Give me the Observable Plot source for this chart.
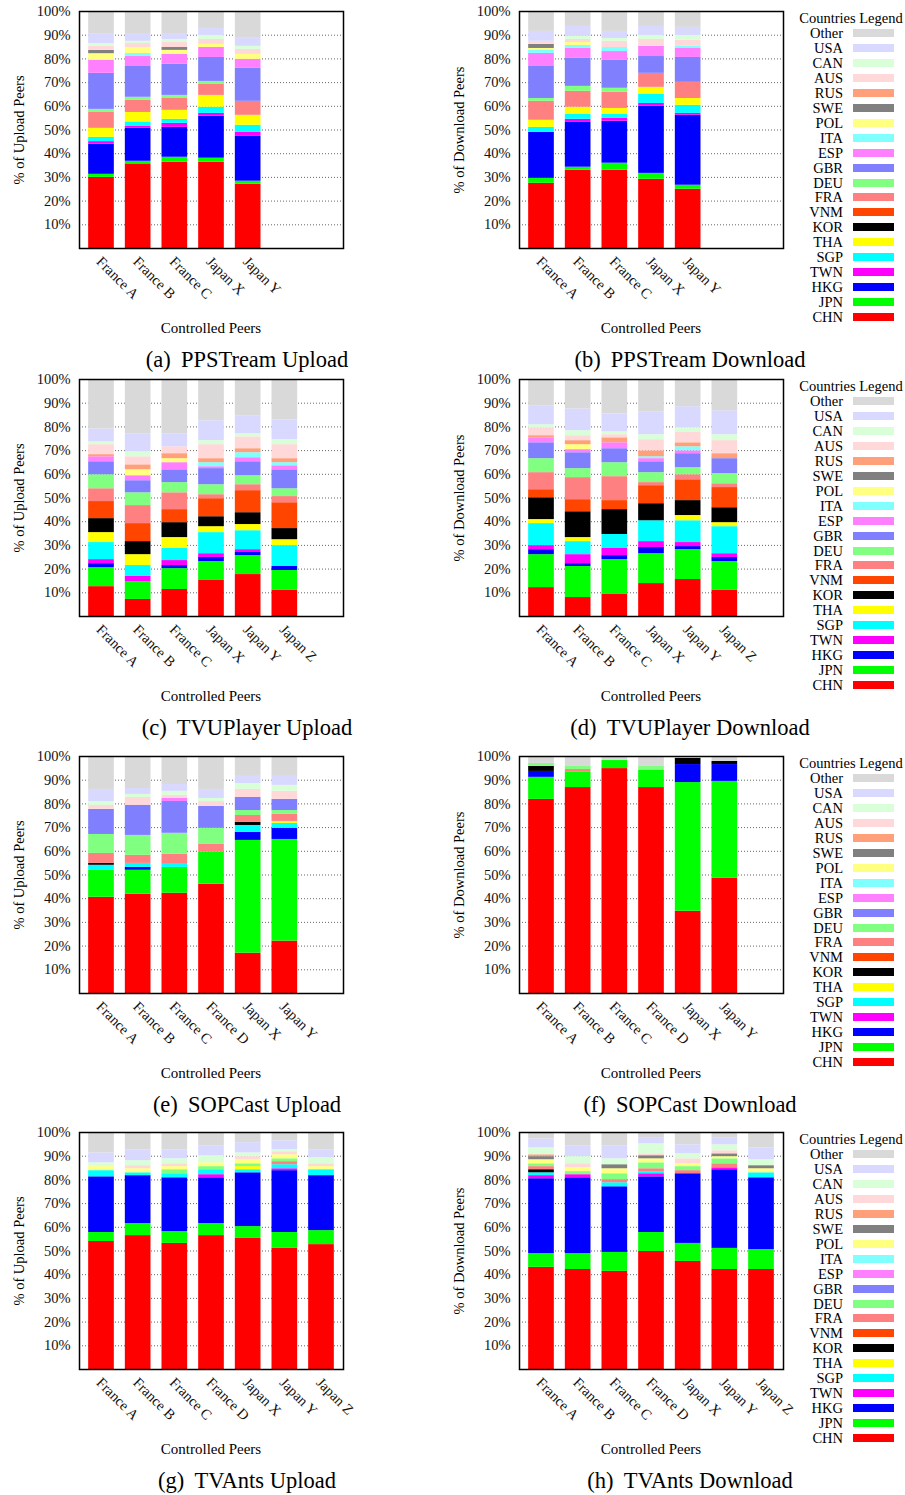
<!DOCTYPE html>
<html><head><meta charset="utf-8">
<script src="https://cdn.jsdelivr.net/npm/d3@7"></script>
<script src="https://cdn.jsdelivr.net/npm/@observablehq/plot@0.6"></script>
<style>
body{margin:0;background:#fff;}
#root{position:relative;width:905px;height:1495px;font-family:"Liberation Serif","Times New Roman",serif;color:#000;overflow:hidden;background:#fff}
.abs{position:absolute;white-space:nowrap;line-height:1}
.plot{position:absolute}
</style></head><body><div id="root"></div>
<script>
// stacking order, bottom to top
const countries = ["CHN","JPN","HKG","TWN","SGP","THA","KOR","VNM","FRA","DEU","GBR","ESP","ITA","POL","SWE","RUS","AUS","CAN","USA","Other"];
const colors = ["#ff0000","#00ff00","#0000ff","#ff00ff","#00ffff","#ffff00","#000000","#ff4500","#ff8080","#80ff80","#8080ff","#ff80ff","#80ffff","#ffff80","#808080","#ffa07a","#ffd9d9","#d9ffd9","#d9d9ff","#d9d9d9"];
const yTicks = [10,20,30,40,50,60,70,80,90,100];

const peersPPS = ["France A","France B","France C","Japan X","Japan Y"];
const peersTVU = ["France A","France B","France C","Japan X","Japan Y","Japan Z"];
const peersSOP = ["France A","France B","France C","France D","Japan X","Japan Y"];
const peersTVA = ["France A","France B","France C","France D","Japan X","Japan Y","Japan Z"];

const ppsUpload = [
  {CHN:30.0,JPN:1.3,HKG:12.7,TWN:1.1,SGP:1.8,THA:3.8,FRA:6.7,DEU:1.3,GBR:15.2,ESP:5.5,POL:2.8,SWE:1.4,AUS:1.7,CAN:1.2,USA:3.9,Other:9.6},
  {CHN:35.7,JPN:1.1,HKG:13.9,TWN:0.8,SGP:1.9,THA:4.0,FRA:5.1,DEU:1.3,GBR:13.0,ESP:4.2,ITA:1.3,POL:2.5,AUS:1.7,CAN:0.9,USA:3.3,Other:9.3},
  {CHN:36.4,JPN:2.1,HKG:12.6,TWN:1.7,SGP:1.7,THA:3.8,FRA:5.0,DEU:1.3,GBR:13.1,ESP:4.2,POL:1.7,SWE:1.2,AUS:2.1,CAN:1.3,USA:2.5,Other:9.3},
  {CHN:36.4,JPN:1.7,HKG:17.7,TWN:1.2,SGP:2.6,THA:5.0,FRA:4.6,DEU:1.3,GBR:10.1,ESP:4.2,POL:1.3,AUS:2.1,CAN:1.7,USA:2.9,Other:7.2},
  {CHN:27.1,JPN:1.3,HKG:18.9,TWN:1.7,SGP:3.0,THA:4.2,FRA:5.9,GBR:13.9,ESP:3.8,POL:2.1,AUS:2.1,CAN:1.3,USA:3.7,Other:11.0}
];
const ppsDownload = [
  {CHN:27.5,JPN:2.1,HKG:19.4,SGP:2.1,THA:3.0,FRA:8.0,DEU:1.2,GBR:13.5,ESP:5.5,ITA:1.3,POL:0.8,SWE:1.7,AUS:1.3,USA:4.2,Other:8.4},
  {CHN:33.0,JPN:1.3,HKG:18.9,TWN:1.3,SGP:2.1,THA:3.0,FRA:6.7,DEU:2.1,GBR:11.8,ESP:4.2,ITA:1.3,POL:1.2,AUS:1.3,CAN:1.3,USA:4.2,Other:6.3},
  {CHN:33.0,JPN:3.0,HKG:17.7,TWN:1.2,SGP:1.7,THA:2.5,FRA:6.8,DEU:1.7,GBR:11.8,ESP:3.7,ITA:1.7,AUS:2.6,CAN:1.2,USA:3.0,Other:8.4},
  {CHN:29.2,JPN:2.5,HKG:28.3,TWN:1.2,SGP:3.8,THA:3.0,FRA:5.9,GBR:7.1,ESP:4.3,AUS:2.9,CAN:1.7,USA:3.8,Other:6.3},
  {CHN:25.0,JPN:1.7,HKG:29.5,TWN:0.8,SGP:3.4,THA:2.9,FRA:6.8,GBR:10.5,ESP:3.8,ITA:0.9,AUS:2.5,CAN:2.1,USA:3.4,Other:6.7}
];
const tvuUpload = [
  {CHN:12.6,JPN:8.0,HKG:1.7,TWN:1.7,SGP:7.2,THA:4.2,KOR:5.9,VNM:7.2,FRA:5.4,DEU:5.9,GBR:5.5,ESP:2.1,RUS:0.9,AUS:4.2,CAN:1.2,USA:5.4,Other:20.9},
  {CHN:7.2,JPN:7.5,TWN:2.2,SGP:4.6,THA:4.6,KOR:5.5,VNM:7.6,FRA:7.6,DEU:5.4,GBR:5.1,ESP:2.1,POL:2.5,RUS:2.1,AUS:3.4,CAN:2.1,USA:7.6,Other:22.9},
  {CHN:11.4,JPN:8.8,HKG:1.3,TWN:2.1,SGP:5.1,THA:4.6,KOR:6.3,VNM:5.5,FRA:7.1,DEU:4.3,GBR:5.4,ESP:3.0,POL:1.7,RUS:2.1,AUS:2.9,USA:5.5,Other:22.9},
  {CHN:15.2,JPN:8.0,HKG:1.7,TWN:1.6,SGP:8.9,THA:2.5,KOR:4.2,VNM:7.6,FRA:1.7,DEU:4.2,GBR:6.8,ESP:0.8,ITA:1.7,RUS:1.7,AUS:5.9,CAN:1.7,USA:8.4,Other:17.4},
  {CHN:17.7,JPN:8.0,HKG:1.3,TWN:1.2,SGP:8.0,THA:2.6,KOR:5.0,VNM:9.3,FRA:2.5,DEU:3.8,GBR:5.9,ESP:1.7,ITA:2.1,RUS:1.7,AUS:5.0,CAN:1.3,USA:7.6,Other:15.3},
  {CHN:11.0,JPN:8.4,HKG:1.7,SGP:8.8,THA:2.5,KOR:4.7,VNM:10.9,FRA:2.6,DEU:3.3,GBR:8.0,ESP:1.7,ITA:1.3,RUS:1.7,AUS:5.9,CAN:2.1,USA:8.4,Other:17.0}
];
const tvuDownload = [
  {CHN:12.2,JPN:13.9,HKG:2.1,TWN:1.7,SGP:9.3,THA:1.7,KOR:9.2,VNM:3.4,FRA:7.2,DEU:5.9,GBR:6.7,ESP:2.1,RUS:0.9,AUS:3.3,CAN:1.3,USA:8.0,Other:11.1},
  {CHN:8.0,JPN:13.1,HKG:1.2,TWN:3.8,SGP:5.5,THA:1.7,KOR:10.9,VNM:5.1,FRA:9.3,DEU:3.8,GBR:6.7,ESP:1.3,POL:2.1,RUS:1.7,AUS:2.1,CAN:2.1,USA:9.2,Other:12.4},
  {CHN:9.3,JPN:14.7,HKG:1.7,TWN:3.0,SGP:5.9,KOR:10.5,VNM:3.8,FRA:10.1,DEU:5.9,GBR:5.9,ESP:2.5,RUS:2.1,AUS:1.3,CAN:1.2,USA:7.6,Other:14.5},
  {CHN:13.9,JPN:12.6,HKG:2.6,TWN:2.5,SGP:8.8,KOR:7.2,VNM:7.6,FRA:1.3,DEU:4.2,GBR:4.6,ESP:1.3,ITA:0.8,RUS:2.5,AUS:4.7,CAN:2.1,USA:9.7,Other:13.6},
  {CHN:15.6,JPN:12.6,HKG:1.3,TWN:1.7,SGP:9.2,THA:2.2,KOR:6.3,VNM:8.8,FRA:2.1,DEU:3.0,GBR:5.9,ESP:1.2,ITA:1.7,RUS:1.7,AUS:4.6,CAN:1.7,USA:8.9,Other:11.5},
  {CHN:11.0,JPN:12.2,HKG:1.7,TWN:1.6,SGP:11.4,THA:1.7,KOR:6.3,VNM:8.5,FRA:1.6,DEU:4.3,GBR:6.3,RUS:2.1,AUS:5.5,CAN:2.5,USA:10.1,Other:13.2}
];
const sopUpload = [
  {CHN:40.6,JPN:11.4,SGP:2.1,KOR:0.8,FRA:4.2,DEU:8.0,GBR:10.6,AUS:1.7,CAN:1.6,USA:5.1,Other:13.9},
  {CHN:41.9,JPN:10.1,HKG:1.2,SGP:1.7,FRA:3.4,DEU:8.4,GBR:12.7,AUS:3.3,CAN:1.3,USA:2.5,Other:13.5},
  {CHN:42.3,JPN:10.9,SGP:1.3,FRA:4.2,DEU:8.9,GBR:13.4,ESP:1.3,AUS:1.3,CAN:1.7,USA:2.9,Other:11.8},
  {CHN:46.1,JPN:13.5,FRA:3.3,DEU:6.8,GBR:9.2,AUS:2.1,CAN:1.3,USA:3.8,Other:13.9},
  {CHN:17.0,JPN:47.6,HKG:3.4,SGP:2.9,KOR:1.3,FRA:2.9,DEU:2.1,GBR:5.5,AUS:3.4,CAN:2.5,USA:3.0,Other:8.4},
  {CHN:22.1,JPN:42.9,HKG:4.7,SGP:2.1,THA:0.8,FRA:3.0,DEU:1.6,GBR:4.7,AUS:3.4,CAN:2.5,USA:4.2,Other:8.0}
];
const sopDownload = [
  {CHN:81.9,JPN:9.3,HKG:2.5,KOR:2.1,DEU:1.3,Other:2.9},
  {CHN:86.9,JPN:6.4,FRA:1.2,DEU:1.3,Other:4.2},
  {CHN:94.9,JPN:3.4,Other:1.7},
  {CHN:86.9,JPN:7.2,DEU:1.7,Other:4.2},
  {CHN:34.7,JPN:54.3,HKG:7.6,KOR:2.6,Other:0.8},
  {CHN:48.6,JPN:40.9,HKG:7.1,KOR:1.3,Other:2.1}
];
const tvaUpload = [
  {CHN:54.0,JPN:3.8,HKG:23.5,SGP:2.6,POL:1.7,CAN:1.6,USA:4.2,Other:8.6},
  {CHN:56.5,JPN:5.1,HKG:20.2,SGP:1.2,POL:1.7,AUS:1.3,CAN:2.1,USA:4.6,Other:7.3},
  {CHN:53.2,JPN:5.0,HKG:22.7,SGP:1.7,DEU:1.7,POL:1.3,AUS:1.2,CAN:2.1,USA:3.8,Other:7.3},
  {CHN:56.5,JPN:5.1,HKG:19.3,TWN:1.3,SGP:2.1,DEU:1.3,POL:1.6,CAN:3.0,USA:4.2,Other:5.6},
  {CHN:55.3,JPN:5.0,HKG:22.7,SGP:1.3,THA:1.3,DEU:1.2,POL:1.7,AUS:1.3,CAN:1.6,USA:4.3,Other:4.3},
  {CHN:51.1,JPN:6.7,HKG:26.1,TWN:0.8,SGP:1.7,FRA:1.3,DEU:1.2,POL:1.7,AUS:1.3,CAN:0.8,USA:3.8,Other:3.5},
  {CHN:52.7,JPN:5.9,HKG:23.2,SGP:2.5,POL:1.3,AUS:1.2,CAN:2.5,USA:3.4,Other:7.3}
];
const tvaDownload = [
  {CHN:43.1,JPN:5.8,HKG:31.6,TWN:1.3,SGP:1.2,KOR:1.3,FRA:1.3,DEU:1.2,POL:1.7,SWE:1.3,RUS:0.8,CAN:2.9,USA:3.8,Other:2.7},
  {CHN:42.2,JPN:6.7,HKG:32.0,TWN:1.3,DEU:1.3,POL:1.6,AUS:1.7,CAN:3.0,USA:4.6,Other:5.6},
  {CHN:41.4,JPN:8.0,HKG:27.7,SGP:1.7,FRA:1.3,DEU:2.5,POL:2.1,SWE:1.7,CAN:2.5,USA:5.5,Other:5.6},
  {CHN:49.8,JPN:8.0,HKG:23.5,TWN:1.3,SGP:0.9,FRA:1.2,DEU:2.5,POL:1.7,SWE:1.3,AUS:0.8,CAN:4.2,USA:2.6,Other:2.2},
  {CHN:45.6,JPN:7.6,HKG:29.4,FRA:1.3,DEU:1.7,POL:1.2,AUS:2.1,CAN:2.1,USA:3.8,Other:5.2},
  {CHN:42.2,JPN:8.9,HKG:33.2,TWN:0.8,FRA:1.7,DEU:2.1,POL:0.9,SWE:1.2,AUS:1.3,CAN:2.5,USA:3.0,Other:2.2},
  {CHN:42.2,JPN:8.4,HKG:30.3,SGP:2.1,POL:1.7,SWE:1.3,CAN:2.5,USA:5.0,Other:6.5}
];

const captions = ["(a)","(b)","(c)","(d)","(e)","(f)","(g)","(h)"];
const titles = ["PPSTream Upload","PPSTream Download","TVUPlayer Upload","TVUPlayer Download","SOPCast Upload","SOPCast Download","TVAnts Upload","TVAnts Download"];
const panels = [
  [peersPPS, ppsUpload], [peersPPS, ppsDownload],
  [peersTVU, tvuUpload], [peersTVU, tvuDownload],
  [peersSOP, sopUpload], [peersSOP, sopDownload],
  [peersTVA, tvaUpload], [peersTVA, tvaDownload]
];

const root = document.getElementById("root");
const frameTops = [11, 379, 756, 1132];
const frameLefts = [79, 519];
const FW = 264, FH = 237;

function addText(txt, x, y, size, opts = {}) {
  const d = document.createElement("div");
  d.className = "abs";
  d.innerHTML = txt;
  d.style.fontSize = size + "px";
  d.style.left = x + "px";
  d.style.top = y + "px";
  d.style.transform = opts.transform || "translate(-50%,-50%)";
  if (opts.origin) d.style.transformOrigin = opts.origin;
  root.appendChild(d);
  return d;
}

function makePlot(peers, rows) {
  const data = [];
  rows.forEach((r, i) => countries.forEach(c => { if (r[c]) data.push({i, c, v: r[c]}); }));
  return Plot.plot({
    width: 79 + FW + 2, height: 11 + FH + 95,
    marginLeft: 79, marginRight: 2, marginTop: 11, marginBottom: 95,
    style: {fontFamily: "'Liberation Serif', 'Times New Roman', serif", fontSize: "14.5px", color: "#000", background: "transparent", overflow: "visible"},
    x: {domain: [-0.6, 6.6], axis: null},
    y: {domain: [0, 100]},
    color: {domain: countries, range: colors},
    marks: [
      Plot.ruleY(yTicks.slice(0, -1), {stroke: "#000", strokeOpacity: 0.6, strokeDasharray: "1,2"}),
      Plot.rectY(data, Plot.stackY({x1: d => d.i - 0.35, x2: d => d.i + 0.35, y: "v", fill: "c"})),
      Plot.axisY(yTicks, {tickSize: 0, tickPadding: 9, tickFormat: d => d + "%", label: null, fill: "#111"}),
      Plot.text(peers, {x: (d, i) => i, frameAnchor: "bottom", text: d => d, rotate: 45, textAnchor: "start", lineAnchor: "bottom", dx: -6, dy: 14, fill: "#111"}),
      Plot.frame({stroke: "#000", strokeWidth: 1.5})
    ]
  });
}

panels.forEach(([peers, rows], k) => {
  const row = Math.floor(k / 2), col = k % 2;
  const ft = frameTops[row], fl = frameLefts[col];
  const svg = makePlot(peers, rows);
  const wrap = document.createElement("div");
  wrap.className = "plot";
  wrap.style.left = (fl - 79) + "px";
  wrap.style.top = (ft - 11) + "px";
  wrap.appendChild(svg);
  root.appendChild(wrap);
  const yl = col === 0 ? "% of Upload Peers" : "% of Download Peers";
  addText(yl, fl - 60, ft + FH / 2, 14.5, {transform: "translate(-50%,-50%) rotate(-90deg)"});
  addText("Controlled Peers", fl + FW / 2, ft + FH + 80, 15);
  addText(captions[k] + '<span style="display:inline-block;width:0.45em"></span>' + titles[k], col === 0 ? 247 : 690, ft + FH + 112, 22.5);
});

// legends, one per row
frameTops.forEach(ft => {
  addText("Countries Legend", 851, ft + 7, 14.5);
  const order = countries.slice().reverse();
  order.forEach((c, k) => {
    const cy = ft + 22 + k * 14.95;
    addText(c, 843, cy, 14.5, {transform: "translate(-100%,-50%)"});
    const sw = document.createElement("div");
    sw.className = "abs";
    sw.style.left = "853px";
    sw.style.top = (cy - 4) + "px";
    sw.style.width = "41px";
    sw.style.height = "8px";
    sw.style.background = colors[countries.indexOf(c)];
    root.appendChild(sw);
  });
});
</script></body></html>
